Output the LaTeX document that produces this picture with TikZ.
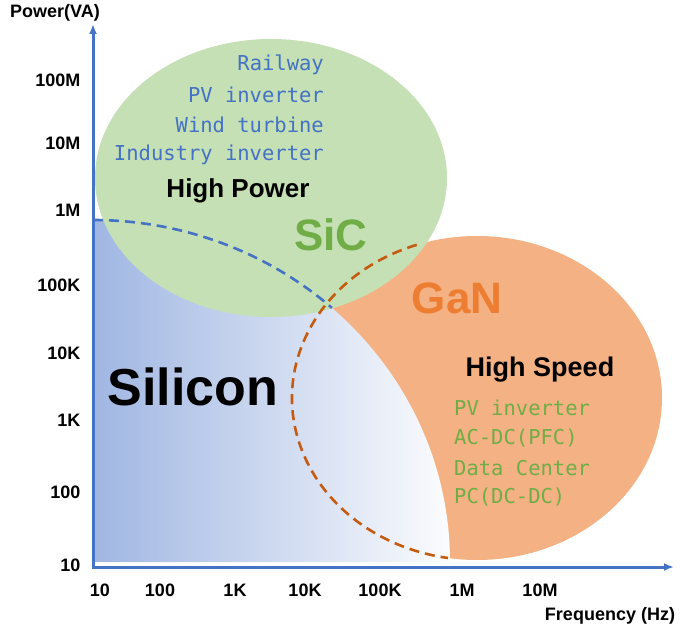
\documentclass[tikz,border=0pt]{standalone}
\usepackage{fontspec}
\setmainfont{Liberation Sans}
\newfontfamily\monof{DejaVu Sans Mono}
\usetikzlibrary{arrows.meta,calc}
\begin{document}
\begin{tikzpicture}[x=1pt,y=1pt,
  axis/.style={draw=axblue,line width=3pt,-{Latex[length=10pt,width=8pt]}},
  tick/.style={font=\bfseries\fontsize{18}{20}\selectfont,text=black},
  app/.style={font=\monof\fontsize{20.5}{22}\selectfont,inner sep=0},
  dashline/.style={dashed,dash pattern=on 10pt off 6pt,line width=2.6pt}]
\definecolor{axblue}{RGB}{68,114,196}
\definecolor{sicg}{RGB}{197,224,180}
\definecolor{sicd}{RGB}{112,173,71}
\definecolor{ganf}{RGB}{244,177,131}
\definecolor{gand}{RGB}{197,90,17}
\definecolor{gant}{RGB}{237,125,49}
\definecolor{siblue}{RGB}{160,182,226}
\useasboundingbox (0,0) rectangle (685,632);
% regions
\fill[ganf] (477,234) ellipse[x radius=185,y radius=162];
\shade[left color=siblue,right color=white!96!siblue] (93,70) -- (93,412) arc[start angle=90,end angle=0,x radius=357,y radius=342] -- cycle;
\fill[sicg] (271,454) ellipse[x radius=176,y radius=139];
\draw[dashline,draw=axblue] (93,412) arc[start angle=90,end angle=48,x radius=357,y radius=342];
\draw[dashline,draw=gand] ($(477,234)+(109:185 and 162)$) arc[start angle=109,end angle=261,x radius=185,y radius=162];
% axes
\coordinate (o) at (93,65);
\coordinate (ytop) at (93,608);
\coordinate (xend) at (674,65);
\draw[axis] (93,63.5) -- (ytop);
\draw[axis] (91.5,65) -- (xend);
% tick labels
\foreach \t/\y in {100M/80,10M/143,1M/210,100K/285,10K/353,1K/420,100/492,10/565}
  \node[tick,anchor=east] (y\t) at (84,632-\y) {\t};
\foreach \t/\x in {10/100,100/160,1K/235,10K/305,100K/380,1M/462,10M/540}
  \node[tick] (x\t) at (\x,42) {\t};
\node[tick] (xl) at (610,16) {Frequency (Hz)};
\node[tick] (yl) at (55,619) {Power(VA)};
% texts
\node[app,text=axblue,anchor=east] (a1) at (324,567) {Railway};
\node[app,text=axblue,anchor=east] (a2) at (324,537) {PV inverter};
\node[app,text=axblue,anchor=east] (a3) at (324,507) {Wind turbine};
\node[app,text=axblue,anchor=east] (a4) at (324,477) {Industry inverter};
\node[font=\bfseries\fontsize{26}{28}\selectfont] (hp) at (238,441) {High Power};
\node[font=\bfseries\fontsize{44}{48}\selectfont,text=sicd] (sic) at (331,397) {SiC};
\node[font=\bfseries\fontsize{44}{48}\selectfont,text=gant] (gan) at (457,334) {GaN};
\node[font=\bfseries\fontsize{52}{56}\selectfont] (si) at (193,245) {Silicon};
\node[font=\bfseries\fontsize{27}{30}\selectfont] (hs) at (540,262) {High Speed};
\node[app,text=sicd,anchor=west] (b1) at (454,224) {PV inverter};
\node[app,text=sicd,anchor=west] (b2) at (454,194) {AC-DC(PFC)};
\node[app,text=sicd,anchor=west] (b3) at (454,164) {Data Center};
\node[app,text=sicd,anchor=west] (b4) at (454,135) {PC(DC-DC)};
\end{tikzpicture}
\end{document}
